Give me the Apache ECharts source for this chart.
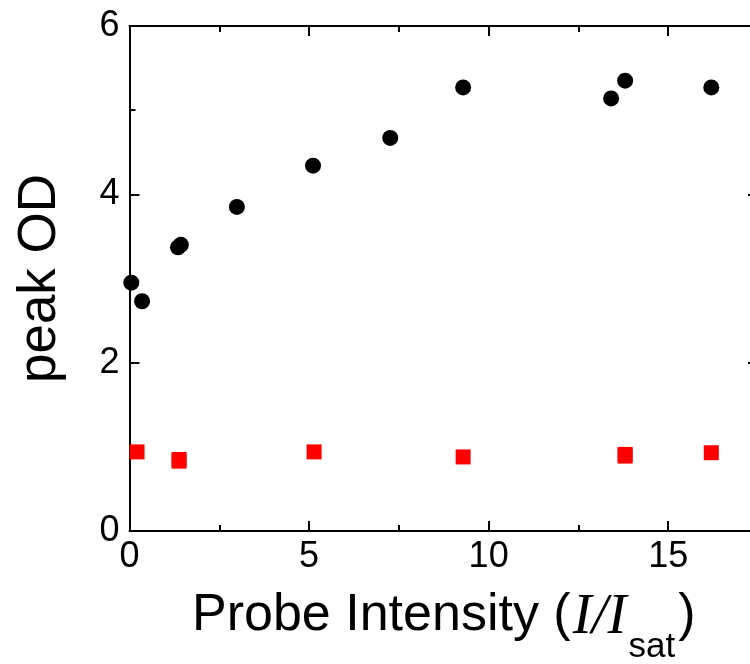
<!DOCTYPE html>
<html>
<head>
<meta charset="utf-8">
<script src="https://cdn.jsdelivr.net/npm/echarts@6/dist/echarts.min.js"></script>
<style>
html,body{margin:0;padding:0;background:#fff;}
#chart{width:750px;height:664px;}
</style>
</head>
<body>
<div id="chart"></div>
<script>
// Black circles: peak OD
const circleX = [0.05, 0.35, 1.35, 1.43, 2.99, 5.11, 7.26, 9.29, 13.41, 13.80, 16.20];
const circleY = [2.95, 2.73, 3.37, 3.40, 3.85, 4.34, 4.67, 5.27, 5.14, 5.35, 5.27];
// Red squares
const squareX = [0.21, 1.38, 1.38, 5.14, 9.29, 13.80, 13.80, 16.20];
const squareY = [0.94, 0.85, 0.83, 0.94, 0.88, 0.91, 0.89, 0.93];
// Axis ranges / ticks
const xMin = 0, xMax = 17.5, xMajor = 5, xMinor = 2.5;
const yMin = 0, yMax = 6, yMajor = 2;
const xTitle = 'Probe Intensity (';
const yTitle = 'peak OD';

const circleData = circleX.map((x, i) => [x, circleY[i]]);
const squareData = squareX.map((x, i) => [x, squareY[i]]);

const black = '#000';
const lineStyle = { color: black, width: 2 };
const sans = 'Liberation Sans';

function xAx(opts) {
  return Object.assign({
    type: 'value', min: xMin, max: xMax, gridIndex: 0,
    splitLine: { show: false },
    axisLine: { show: false, onZero: false, lineStyle: lineStyle },
    axisTick: { show: true, inside: true, length: 10, lineStyle: lineStyle },
    axisLabel: { show: false }
  }, opts);
}

const chart = echarts.init(document.getElementById('chart'), null, { renderer: 'canvas' });
chart.setOption({
  animation: false,
  backgroundColor: '#fff',
  grid: { left: 129.5, right: -8, top: 26, bottom: 133, containLabel: false, outerBoundsMode: 'none' },
  xAxis: [
    xAx({
      position: 'bottom', interval: xMajor,
      axisLine: { show: true, onZero: false, lineStyle: lineStyle },
      axisLabel: { show: true, showMaxLabel: false, fontSize: 36, fontFamily: sans, color: black, margin: 8 },
      name: '{a|' + xTitle + '}{i|I/I}{s|sat}{a|)}',
      nameLocation: 'middle', nameGap: 59,
      nameTextStyle: {
        color: black,
        rich: {
          a: { fontFamily: sans, fontSize: 52, lineHeight: 56, verticalAlign: 'top', color: black },
          i: { fontFamily: 'Liberation Serif', fontStyle: 'italic', fontSize: 57, lineHeight: 56, verticalAlign: 'top', color: black, padding: [0, 2, 0, 2] },
          s: { fontFamily: sans, fontSize: 35, lineHeight: 35, padding: [40, 3, 0, 0], verticalAlign: 'top', color: black }
        }
      }
    }),
    xAx({ position: 'bottom', interval: xMinor, axisTick: { show: true, inside: true, length: 6, lineStyle: lineStyle } }),
    xAx({ position: 'top', interval: xMajor, axisLine: { show: true, onZero: false, lineStyle: lineStyle } }),
    xAx({ position: 'top', interval: xMinor, axisTick: { show: true, inside: true, length: 6, lineStyle: lineStyle } })
  ],
  yAxis: [
    {
      type: 'value', min: yMin, max: yMax, interval: yMajor, position: 'left',
      splitLine: { show: false },
      axisLine: { show: true, onZero: false, lineStyle: lineStyle },
      axisTick: { show: true, inside: true, length: 10, lineStyle: lineStyle },
      minorTick: { show: true, splitNumber: 2, length: 6, lineStyle: lineStyle },
      minorSplitLine: { show: false },
      axisLabel: { fontSize: 36, fontFamily: sans, color: black, margin: 10 },
      name: yTitle, nameLocation: 'middle', nameGap: 63, nameRotate: 90,
      nameTextStyle: { fontSize: 53, fontFamily: sans, color: black }
    },
    {
      type: 'value', min: yMin, max: yMax, interval: yMajor, position: 'right',
      splitLine: { show: false },
      axisLine: { show: true, onZero: false, lineStyle: lineStyle },
      axisTick: { show: true, inside: true, length: 10, lineStyle: lineStyle },
      minorTick: { show: true, splitNumber: 2, length: 6, lineStyle: lineStyle },
      minorSplitLine: { show: false },
      axisLabel: { show: false }
    }
  ],
  series: [
    {
      type: 'scatter', xAxisIndex: 0, yAxisIndex: 0,
      data: circleData, symbol: 'circle', symbolSize: 16,
      itemStyle: { color: black, opacity: 1 }
    },
    {
      type: 'scatter', xAxisIndex: 0, yAxisIndex: 0,
      data: squareData, symbol: 'rect', symbolSize: 15,
      itemStyle: { color: '#ff0000', opacity: 1 }
    }
  ]
});
</script>
</body>
</html>
